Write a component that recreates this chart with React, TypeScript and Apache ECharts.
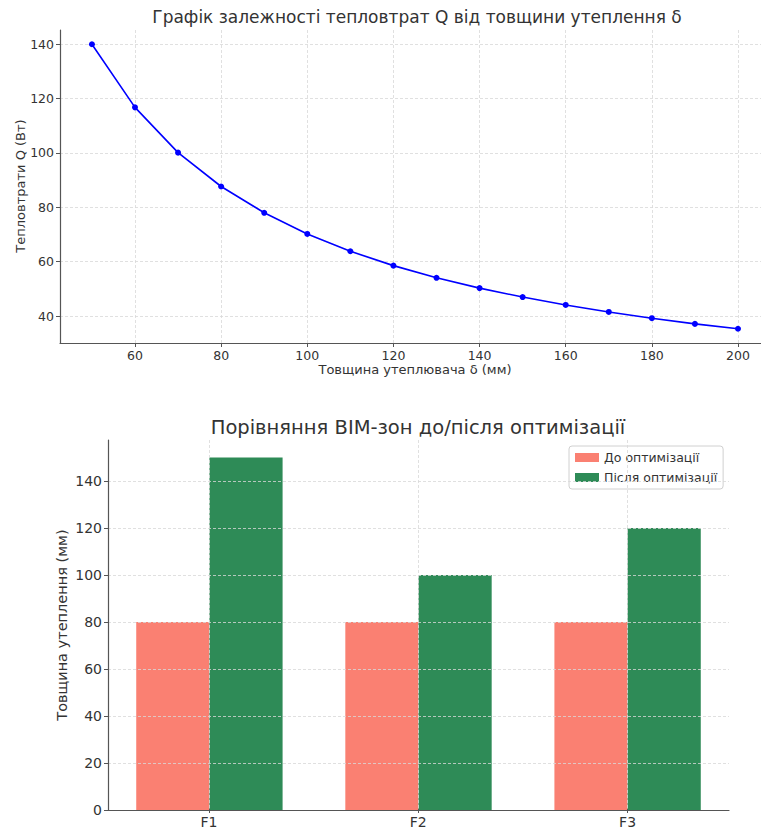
import React, { useEffect, useRef } from "react";
import * as echarts from "echarts";

const thickness = [50, 60, 70, 80, 90, 100, 110, 120, 130, 140, 150, 160, 170, 180, 190, 200];
const heatLoss = [140, 116.7, 100, 87.5, 77.8, 70, 63.6, 58.3, 53.8, 50, 46.7, 43.8, 41.2, 38.9, 36.8, 35];

const zones = ["F1", "F2", "F3"];
const beforeOpt = [80, 80, 80];
const afterOpt = [150, 100, 120];

const FONT = "DejaVu Sans";
const TXT = "#333333";
const AX = "#555555";
const GRIDC = "#d8d8d8";

export default function App() {
  const ref = useRef<HTMLDivElement>(null);
  useEffect(() => {
    if (!ref.current) return;
    const chart = echarts.init(ref.current, null, { renderer: "svg" });
    const hidden = { show: false };
    const splitDashed = { show: true, lineStyle: { color: GRIDC, type: [3, 2], width: 0.8 } };

    const barRender = (off0: number, off1: number, color: string) => (params: any, api: any) => {
      const i = api.value(0);
      const v = api.value(1);
      const p0 = api.coord([i + off0, v]);
      const p1 = api.coord([i + off1, 0]);
      return {
        type: "rect",
        shape: { x: p0[0], y: p0[1], width: p1[0] - p0[0], height: p1[1] - p0[1] },
        style: { fill: color },
      };
    };

    const option: any = {
      animation: false,
      textStyle: { fontFamily: FONT },
      grid: [
        { left: 60, top: 30, width: 701, height: 313 },
        { left: 135, top: 30, width: 603, height: 313 },
        { left: 60, top: 44, width: 701, height: 272 },
        { left: 108, top: 440, width: 621, height: 370 },
        { left: 209, top: 440, width: 418.6, height: 370 },
        { left: 108, top: 481, width: 621, height: 329 },
      ],
      xAxis: [
        { gridIndex: 0, type: "value", min: 42.59, max: 205.34, axisLine: { show: true, onZero: false, lineStyle: { color: AX, width: 1.2 } }, axisTick: hidden, axisLabel: hidden, splitLine: hidden },
        { gridIndex: 1, type: "value", min: 60, max: 200, interval: 20, axisLine: { show: false }, axisTick: { show: true, length: 4, lineStyle: { color: AX } }, axisLabel: { color: TXT, fontSize: 12.5, margin: 6, fontFamily: FONT }, splitLine: splitDashed },
        { gridIndex: 2, type: "value", min: 42.59, max: 205.34, show: false },
        { gridIndex: 3, type: "value", min: -0.485, max: 2.485, axisLine: { show: true, onZero: false, lineStyle: { color: AX, width: 1.2 } }, axisTick: hidden, axisLabel: hidden, splitLine: hidden, z: 6 },
        { gridIndex: 4, type: "value", min: 0, max: 2, interval: 1, z: 5, axisLine: { show: false }, axisTick: { show: true, length: 4, lineStyle: { color: AX } }, axisLabel: { color: TXT, fontSize: 14, margin: 6, fontFamily: FONT, formatter: (v: number) => zones[v] ?? "" }, splitLine: splitDashed },
        { gridIndex: 5, type: "value", min: 0, max: 2, show: false },
      ],
      yAxis: [
        { gridIndex: 0, type: "value", min: 29.75, max: 145.25, axisLine: { show: true, onZero: false, lineStyle: { color: AX, width: 1.2 } }, axisTick: hidden, axisLabel: hidden, splitLine: hidden },
        { gridIndex: 1, type: "value", min: 29.75, max: 145.25, show: false },
        { gridIndex: 2, type: "value", min: 40, max: 140, interval: 20, axisLine: { show: false }, axisTick: { show: true, length: 4, lineStyle: { color: AX } }, axisLabel: { color: TXT, fontSize: 12.5, margin: 6, fontFamily: FONT }, splitLine: splitDashed },
        { gridIndex: 3, type: "value", min: 0, max: 157.5, axisLine: { show: true, onZero: false, lineStyle: { color: AX, width: 1.2 } }, axisTick: hidden, axisLabel: hidden, splitLine: hidden, z: 6 },
        { gridIndex: 4, type: "value", min: 0, max: 157.5, show: false },
        { gridIndex: 5, type: "value", min: 0, max: 140, interval: 20, z: 5, axisLine: { show: false }, axisTick: { show: true, length: 4, lineStyle: { color: AX } }, axisLabel: { color: TXT, fontSize: 14, margin: 6, fontFamily: FONT }, splitLine: splitDashed },
      ],
      legend: {
        left: 569,
        top: 446,
        orient: "vertical",
        data: ["До оптимізації", "Після оптимізації"],
        icon: "rect",
        itemWidth: 24,
        itemHeight: 9,
        itemGap: 7,
        padding: [5, 6, 5, 6],
        borderColor: "#d0d0d0",
        borderWidth: 1,
        borderRadius: 3,
        backgroundColor: "rgba(255,255,255,0.85)",
        textStyle: { color: TXT, fontSize: 12.5, fontFamily: FONT },
      },
      series: [
        {
          type: "line",
          xAxisIndex: 0,
          yAxisIndex: 0,
          data: thickness.map((t, i) => [t, heatLoss[i]]),
          lineStyle: { color: "#0000ff", width: 1.6 },
          itemStyle: { color: "#0000ff" },
          symbol: "circle",
          symbolSize: 6,
          z: 3,
        },
        {
          type: "custom",
          name: "До оптимізації",
          xAxisIndex: 3,
          yAxisIndex: 3,
          data: beforeOpt.map((v, i) => [i, v]),
          itemStyle: { color: "#FA8072" },
          renderItem: barRender(-0.35, 0, "#FA8072"),
          z: 2,
        },
        {
          type: "custom",
          name: "Після оптимізації",
          xAxisIndex: 3,
          yAxisIndex: 3,
          data: afterOpt.map((v, i) => [i, v]),
          itemStyle: { color: "#2E8B57" },
          renderItem: barRender(0, 0.35, "#2E8B57"),
          z: 2,
        },
      ],
      graphic: [
        { type: "text", x: 417, y: 17, style: { text: "Графік залежності тепловтрат Q від товщини утеплення δ", fill: TXT, fontSize: 17, fontFamily: FONT, align: "center", verticalAlign: "middle" } },
        { type: "text", x: 415, y: 369, style: { text: "Товщина утеплювача δ (мм)", fill: TXT, fontSize: 13, fontFamily: FONT, align: "center", verticalAlign: "middle" } },
        { type: "text", x: 20, y: 186, rotation: Math.PI / 2, style: { text: "Тепловтрати Q (Вт)", fill: TXT, fontSize: 13, fontFamily: FONT, align: "center", verticalAlign: "middle" } },
        { type: "text", x: 418, y: 427, style: { text: "Порівняння BIM-зон до/після оптимізації", fill: TXT, fontSize: 19.5, fontFamily: FONT, align: "center", verticalAlign: "middle" } },
        { type: "text", x: 62, y: 625, rotation: Math.PI / 2, style: { text: "Товщина утеплення (мм)", fill: TXT, fontSize: 14.5, fontFamily: FONT, align: "center", verticalAlign: "middle" } },
      ],
    };
    chart.setOption(option);
    return () => chart.dispose();
  }, []);
  return <div ref={ref} style={{ position: "absolute", left: 0, top: 0, width: 761, height: 829 }} />;
}
